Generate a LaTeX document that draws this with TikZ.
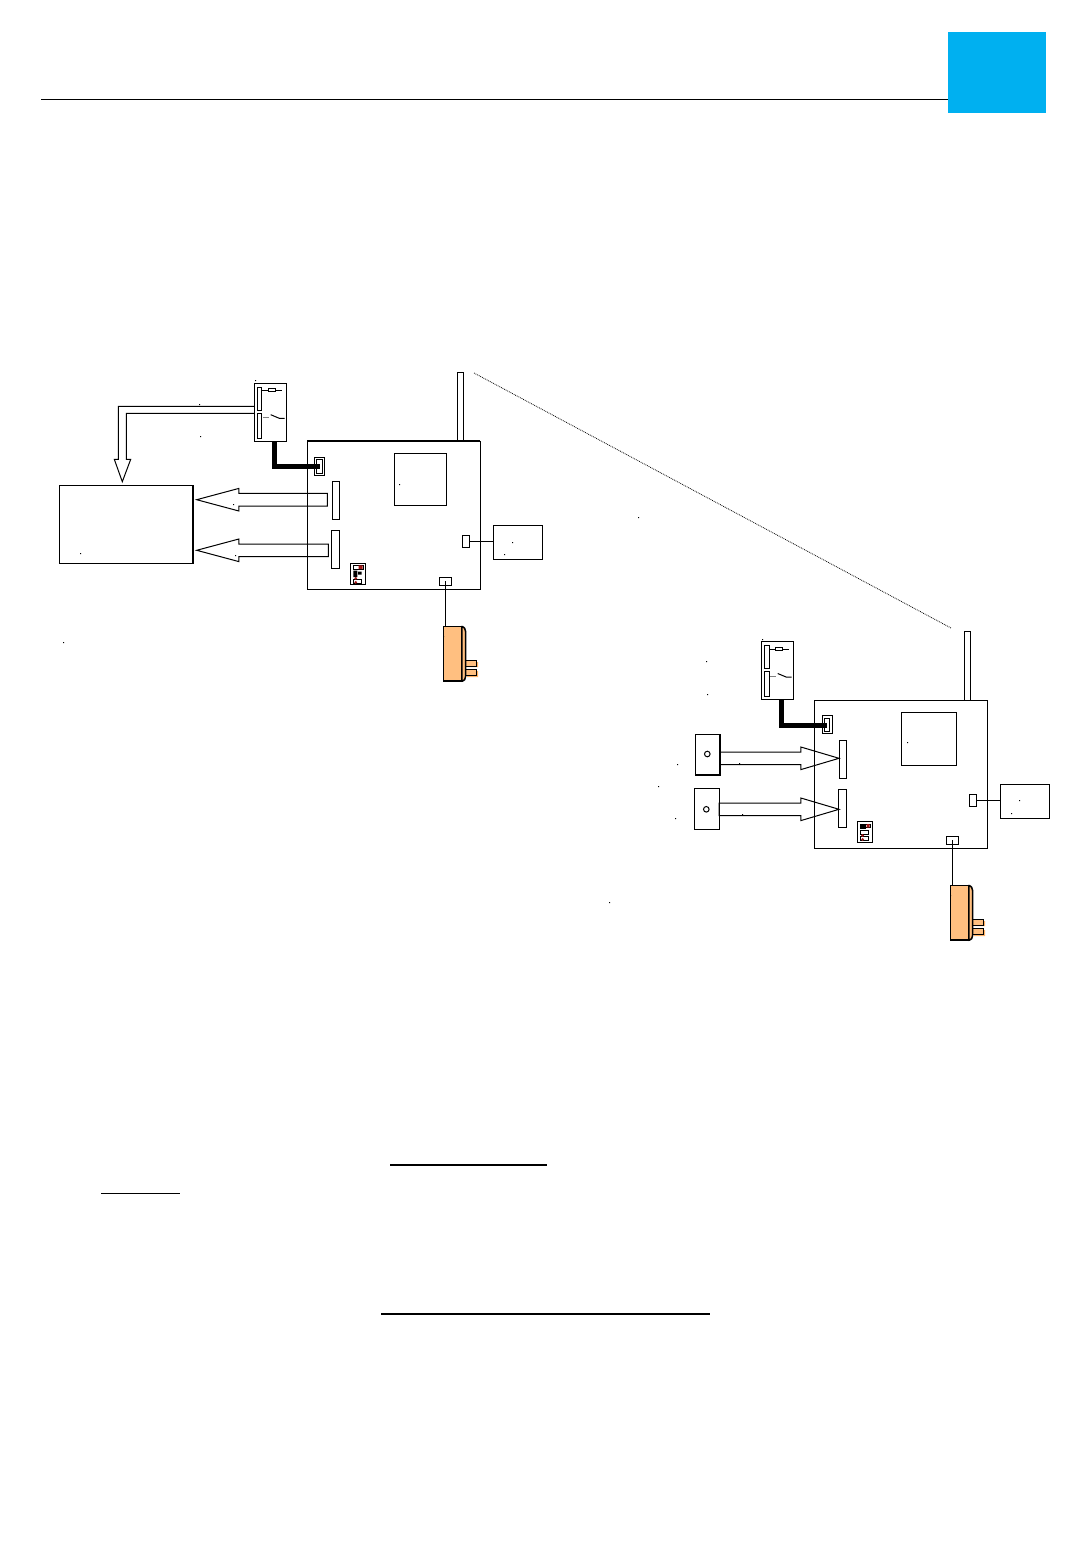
\documentclass[tikz,border=0pt]{standalone}
\usepackage{xcolor}
\usepackage{tikz}
\usetikzlibrary{shapes, arrows.meta, positioning, calc}
\definecolor{tabblue}{HTML}{00B0F0}
\definecolor{plugfill}{HTML}{FFBF80}
\definecolor{plugshade}{HTML}{FFB266}
\definecolor{dipred}{HTML}{A01818}

\begin{document}
\begin{tikzpicture}[
    x=1pt, y=-1pt,
    box/.style={rectangle, draw, inner sep=0pt, outer sep=0pt, line width=1pt},
    board/.style={box, minimum width=173pt, minimum height=148pt},
    chip/.style={box, minimum width=52pt, minimum height=52pt},
    relay/.style={box, minimum width=32pt, minimum height=58pt},
    strip/.style={box, minimum width=4.5pt},
    header/.style={box, minimum width=7.5pt, minimum height=38pt},
    socket/.style={box, minimum width=10pt, minimum height=18pt},
    socketin/.style={box, minimum width=5.5pt, minimum height=13.5pt},
    jack/.style={box, minimum width=7.5pt, minimum height=12pt},
    powerin/.style={box, minimum width=12pt, minimum height=8pt},
    sidebox/.style={box, minimum width=49.5pt, minimum height=34pt},
    antenna/.style={box, minimum width=6pt, minimum height=69pt},
    dipbox/.style={box, minimum width=15.5pt, minimum height=21.5pt},
    sensor/.style={box, minimum width=25pt},
    plugbody/.style={box, fill=plugfill, line width=1.5pt, minimum width=18.5pt, minimum height=54.5pt},
    plugpin/.style={box, fill=plugfill, minimum width=10.5pt, minimum height=5.7pt},
    bigarrow/.style={single arrow, draw, inner xsep=0pt, inner ysep=5.8pt, outer sep=0pt, line width=1pt,
      anchor=tip, single arrow tip angle=30, single arrow head extend=5pt},
    wire/.style={line width=1pt},
    cable/.style={line width=5pt},
    speck/.style={fill=black}
  ]

    \useasboundingbox (0,0) rectangle (1080,1560);

    % Page head
    \node[rectangle, fill=tabblue, inner sep=0pt, minimum width=98pt, minimum height=81pt] (tab) at (997,72.5) {};
    \coordinate (rulestart) at (41,99.5);
    \draw[line width=0.8pt] (rulestart) -- (rulestart -| tab.west);

    % First unit
    \node[board] (boardA) at (393.8,515.3) {};
    \draw[line width=2pt] (boardA.north west) -- (boardA.north east);
    \node[antenna] (antA) at (460.3,406.8) {};
    \node[chip] (chipA) at (420,479) {};
    \node[header] (hdrAa) at (335.8,500.3) {};
    \node[header, minimum width=8pt] (hdrAb) at (335.3,549.3) {};
    \node[socket] (sockA) at (319.2,466.3) {};
    \node[socketin] (sockinA) at (319.5,466.5) {};
    \node[jack] (jackA) at (466,541.3) {};
    \node[powerin] (powerA) at (445.3,581.3) {};
    \node[sidebox] (sideA) at (517.8,542) {};
    \node[dipbox] (dipA) at (358,574) {};

    % First relay
    \node[relay] (relayA) at (270.3,412.3) {};
    \node[strip, minimum height=23pt] (stripAa) at (259.5,398.8) {};
    \node[strip, minimum height=25pt] (stripAb) at (259.5,425.8) {};
    \node[box, minimum width=7.5pt, minimum height=2.5pt] (resA) at (272,390.2) {};
    \draw[wire] (stripAa.east |- resA) -- (resA) -- ++(10,0);
    \draw[line width=1pt, gray] (263.3,417.7) -- (269.3,417.7);
    \draw[wire] (270.7,414.7) -- (279.3,418.3) -- (284.7,418.3);

    % First plug
    \node[plugbody] (plugA) at (452.5,653.9) {};
    \fill[plugshade] (467,662) rectangle (478,667) (467,671) rectangle (478,677);
    \node[plugpin] (pinAa) at (471,663.2) {};
    \node[plugpin] (pinAb) at (471,672.2) {};
    \draw[fill=plugfill, line width=1.5pt] (plugA.north east) -- ++(1,0) .. controls (464,627) and (465.7,629) .. (465.7,632)
      -- (465.7,676) .. controls (465.7,679) and (464,681) .. (462.7,681) -- (plugA.south east) -- cycle;

    % First unit wires
    \draw[wire] (jackA) -- (jackA -| sideA.west);
    \draw[wire] (powerA.center) -- (powerA.center |- plugA.north);
    \draw[cable] ([xshift=3.7pt]relayA.south) |- (sockinA.center);

    % Monitor and arrows
    \node[box] (monitor) [minimum width=134pt, minimum height=78pt] at (126.3,524.3) {};
    \draw[line width=1.8pt] (monitor.north east) -- (monitor.south east);
    \node[bigarrow, shape border rotate=180, minimum height=130.6pt] (arrAa) at (196.7,499.7) {};
    \node[bigarrow, shape border rotate=180, minimum height=131.6pt] (arrAb) at (196.7,550.3) {};
    \coordinate (arrtip) at (122.3,481.7);
    \draw[wire] (relayA.west |- 0,406.3) -| (118.3,459.3) -- (114.3,459.3) -- (arrtip)
      -- (130.7,459.3) -- (126.3,459.3) |- (relayA.west |- 0,413.3);

    % Second unit
    \node[board] (boardB) at (900.8,774.3) {};
    \node[antenna] (antB) at (967.3,665.8) {};
    \node[chip, minimum width=55.5pt, minimum height=53pt] (chipB) at (929,738.5) {};
    \node[header] (hdrBa) at (842.8,759.3) {};
    \node[header, minimum width=8pt] (hdrBb) at (842.3,808.3) {};
    \node[socket] (sockB) at (827,724.8) {};
    \node[socketin] (sockinB) at (827,725) {};
    \node[jack] (jackB) at (973,800.3) {};
    \node[powerin] (powerB) at (952.3,840.3) {};
    \node[sidebox] (sideB) at (1024.8,801) {};
    \node[dipbox] (dipB) at (865,832) {};

    % Second relay
    \node[relay] (relayB) at (777.3,670.8) {};
    \node[strip, minimum height=23pt] (stripBa) at (766.8,657.3) {};
    \node[strip, minimum height=25pt] (stripBb) at (766.8,684.3) {};
    \node[box, minimum width=7.5pt, minimum height=2.5pt] (resB) at (779,649.2) {};
    \draw[wire] (stripBa.east |- resB) -- (resB) -- ++(10,0);
    \draw[line width=1pt, gray] (770.3,676.5) -- (776.3,676.5);
    \draw[wire] (777.7,673.5) -- (786.3,677.1) -- (791.7,677.1);

    % Second plug
    \node[plugbody] (plugB) at (959.5,912.9) {};
    \fill[plugshade] (974,921) rectangle (985,926) (974,930) rectangle (985,936);
    \node[plugpin] (pinBa) at (978,922.2) {};
    \node[plugpin] (pinBb) at (978,931.2) {};
    \draw[fill=plugfill, line width=1.5pt] (plugB.north east) -- ++(1,0) .. controls (971,886) and (972.7,888) .. (972.7,891)
      -- (972.7,935) .. controls (972.7,938) and (971,940) .. (969.7,940) -- (plugB.south east) -- cycle;

    % Second unit wires
    \draw[wire] (jackB) -- (jackB -| sideB.west);
    \draw[wire] (powerB.center) -- (powerB.center |- plugB.north);
    \draw[cable] ([xshift=3.7pt]relayB.south) |- (sockinB.center);

    % Sensors
    \node[sensor, minimum height=40.7pt] (sensorA) at (707.8,754.6) {};
    \draw[line width=1.8pt] (sensorA.north east) -- (sensorA.south east) -- (sensorA.south west);
    \node[sensor, minimum height=41pt] (sensorB) at (706.8,808.8) {};
    \draw[wire] (707.3,754) circle (2.8);
    \draw[wire] (706.3,809.3) circle (2.8);
    \node[bigarrow, single arrow tip angle=33, minimum height=119pt] (arrBa) at (839,758.3) {};
    \node[bigarrow, single arrow tip angle=33, minimum height=120pt] (arrBb) at (839,809.3) {};

    % Radio link
    \coordinate (linkA) at (474,373);
    \coordinate (linkB) at (951,628);
    \draw[line width=0.8pt, densely dotted] (linkA) -- (linkB);

    % DIP switches
    \fill[white, draw=black, line width=0.5pt] (353.3,565.3) rectangle (363.3,569) (353.3,579.3) rectangle (361.7,583.3);
    \fill[dipred] (358.7,565.3) rectangle (362.7,569) (355.7,578.3) circle (1.5) (355.7,582.3) circle (1.5);
    \fill[black] (353.3,570.7) rectangle (357.3,577) (358,571.5) rectangle (361.7,574.5);
    \fill[white, draw=black, line width=0.5pt] (860.3,824.3) rectangle (870.3,827.5) (860.3,830) rectangle (868.7,834)
      (860.3,836.5) rectangle (868.7,840.5);
    \fill[dipred] (866.7,824) rectangle (869.7,827.5) (862.7,835.5) circle (1.5) (862.7,839.5) circle (1.5);
    \fill[black] (860.3,824) rectangle (865.7,828.5);

    % Underlines
    \coordinate (ulAa) at (390,1165);
    \coordinate (ulAb) at (547,1165);
    \coordinate (ulBa) at (101,1193);
    \coordinate (ulBb) at (180,1193);
    \coordinate (ulCa) at (381,1314);
    \coordinate (ulCb) at (710,1314);
    \draw[line width=1.8pt] (ulAa) -- (ulAb);
    \draw[line width=0.8pt] (ulBa) -- (ulBb);
    \draw[line width=1.8pt] (ulCa) -- (ulCb);

    % Specks
    \fill[speck] (63,642) rectangle ++(1,1) (80,553) rectangle ++(1,1) (399,484) rectangle ++(1,1) (512,542) rectangle ++(1,1)
      (504,554) rectangle ++(1,1) (638,517) rectangle ++(1,1) (706,661) rectangle ++(1,1) (707,694) rectangle ++(1,1)
      (677,764) rectangle ++(1,1) (658,786) rectangle ++(1,1) (675,818) rectangle ++(1,1) (609,902) rectangle ++(1,1)
      (739,763) rectangle ++(1,1) (742,814) rectangle ++(1,1) (907,742) rectangle ++(1,1) (1019,800) rectangle ++(1,1)
      (1011,813) rectangle ++(1,1) (762,639) rectangle ++(1,1) (255,380) rectangle ++(1,1) (199,404) rectangle ++(1,1)
      (200,436) rectangle ++(1,1) (233,504) rectangle ++(1,1) (235,555) rectangle ++(1,1) (443,636) rectangle ++(1,1)
      (950,895) rectangle ++(1,1);

  \end{tikzpicture}
\end{document}
